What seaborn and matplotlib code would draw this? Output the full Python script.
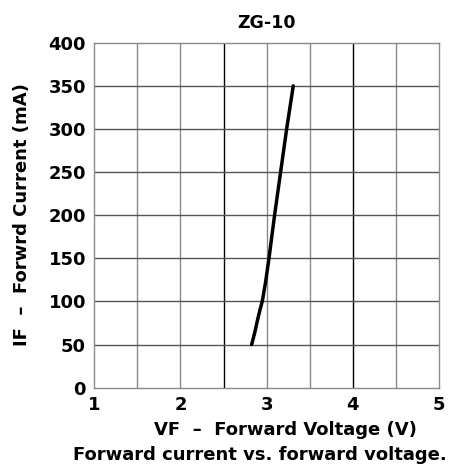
import matplotlib
matplotlib.use("Agg")
import matplotlib.pyplot as plt
import seaborn as sns
import pandas as pd

# --- DATA ---
vf = [2.826, 2.862, 2.893, 2.922, 2.949, 2.987, 3.027, 3.092, 3.162, 3.232, 3.309]
i_f = [50, 64, 78, 90, 100, 122, 150, 200, 250, 300, 350]
x_ticks = [1, 2, 3, 4, 5]
y_ticks = [0, 50, 100, 150, 200, 250, 300, 350, 400]

TITLE = "ZG-10"
XLABEL = "VF  \u2013  Forward Voltage (V)"
YLABEL = "IF  \u2013  Forwrd Current (mA)"
CAPTION = "Forward current vs. forward voltage."

sns.set_theme(style="white")
plt.rcParams["font.family"] = ["DejaVu Sans"]
plt.rcParams["text.color"] = "black"
plt.rcParams["xtick.color"] = "black"
plt.rcParams["ytick.color"] = "black"

df = pd.DataFrame({"VF": vf, "IF": i_f})

fig = plt.figure(figsize=(4.59, 4.66), dpi=100)
ax = fig.add_axes([94.3 / 459, 1 - 387.7 / 466, 344.7 / 459, 345 / 466])

# grid
for x in [1.5, 2, 3, 3.5, 4.5]:
    ax.axvline(x, color="#8a8a8a", lw=1.0, zorder=1)
for x in [2.5, 4]:
    ax.axvline(x, color="black", lw=1.0, zorder=1)
for y in range(50, 400, 50):
    ax.axhline(y, color="#555555", lw=1.0, zorder=1)

sns.lineplot(data=df, x="VF", y="IF", color="black", linewidth=2.5, ax=ax, zorder=3)

ax.set_xlim(1, 5)
ax.set_ylim(0, 400)
ax.set_xticks(x_ticks)
ax.set_yticks(y_ticks)
ax.set_xticklabels([str(t) for t in x_ticks], fontsize=13, fontweight="bold")
ax.set_yticklabels([str(t) for t in y_ticks], fontsize=13, fontweight="bold")
ax.tick_params(axis="both", length=0, pad=6)
ax.set_xlabel("")
ax.set_ylabel("")
for s in ax.spines.values():
    s.set_color("#8a8a8a")
    s.set_linewidth(1.0)

fig.text(266 / 459, 1 - 23 / 466, TITLE, ha="center", va="center", fontsize=12.5,
         fontweight="semibold")
fig.text(285 / 459, 1 - 430 / 466, XLABEL, ha="center", va="center", fontsize=13, fontweight="bold")
fig.text(260 / 459, 1 - 455 / 466, CAPTION, ha="center", va="center", fontsize=13, fontweight="bold")
fig.text(22 / 459, 1 - 215 / 466, YLABEL, ha="center", va="center", rotation=90,
         fontsize=13, fontweight="bold")

fig.savefig("out.png", dpi=100)
